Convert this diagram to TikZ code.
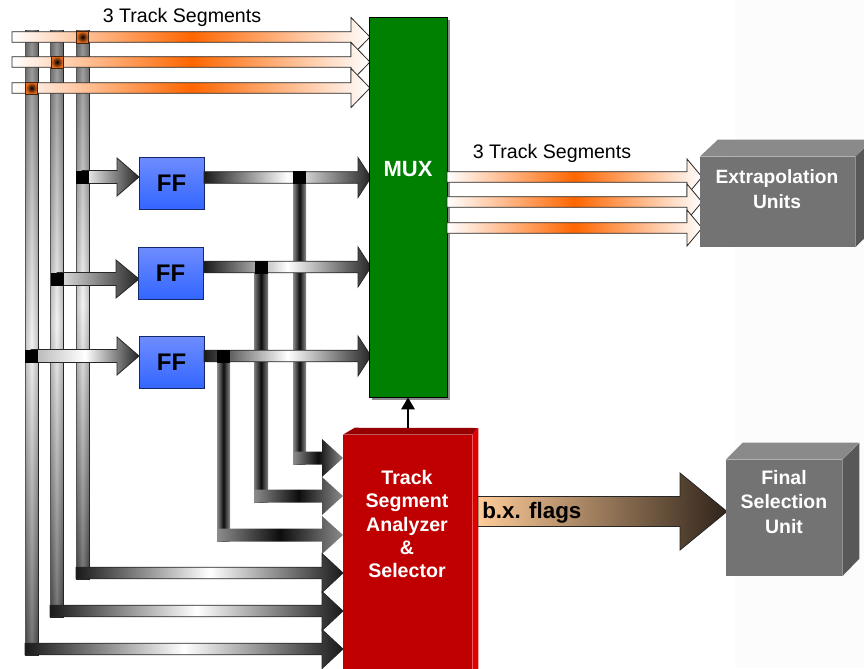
\documentclass[tikz,border=0pt]{standalone}
\usepackage{fontspec}
\setmainfont{Liberation Sans}
\usetikzlibrary{arrows.meta}
\definecolor{trkorange}{RGB}{255,102,0}
\definecolor{sqorange}{RGB}{235,110,30}
\definecolor{muxgreen}{RGB}{0,128,0}
\definecolor{tsared}{RGB}{192,0,0}
\definecolor{tsatopc}{RGB}{150,0,0}
\definecolor{tsaside}{RGB}{225,0,0}
\definecolor{ffblueA}{RGB}{110,140,255}
\definecolor{ffblueB}{RGB}{51,102,255}
\definecolor{boxfront}{RGB}{115,115,115}
\definecolor{boxtop}{RGB}{138,138,138}
\definecolor{boxside}{RGB}{88,88,88}
\definecolor{peach}{RGB}{255,204,153}
\definecolor{darkbrown}{RGB}{48,36,26}
\definecolor{bgstrip}{RGB}{252,252,252}
% horizontal block arrow: x-start, x-tip, y-centre, half shaft, head start, half head
\newcommand\harr[6]{(#1,#3-#4) -- (#5,#3-#4) -- (#5,#3-#6) -- (#2,#3) -- (#5,#3+#6) -- (#5,#3+#4) -- (#1,#3+#4) -- cycle}
\begin{document}
\begin{tikzpicture}[x=0.75pt,y=-0.75pt,line join=miter,
  outl/.style={draw=black!85,line width=0.6pt},
  trkarrow/.style={outl,left color=white,right color=white,middle color=trkorange},
  blksq/.style={fill=black,inner sep=0pt,minimum size=13*0.75pt},
  orsq/.style={draw=black!70!sqorange,line width=0.5pt,shading=radial,inner color=black,outer color=sqorange,inner sep=0pt,minimum size=12*0.75pt},
  ffbox/.style={draw=black!60!ffblueB,line width=0.6pt,top color=ffblueA,bottom color=ffblueB,inner sep=0pt,
     minimum width=65*0.75pt,minimum height=52*0.75pt,font=\fontsize{18}{20}\selectfont\bfseries},
  boxtext/.style={text=white,align=center,font=\fontsize{14.6}{18.2}\selectfont\bfseries},
  plain/.style={font=\fontsize{14.7}{17}\selectfont}]
\useasboundingbox (0,0) rectangle (864,668);
\clip (0,0) rectangle (864,668);
\fill[bgstrip] (735,0) rectangle (864,668);

% ---- vertical bus bars
\foreach \xl/\yb in {25/655,50/617,76/579}{
  \shadedraw[draw=black!85,line width=0.6pt,top color=black!80,bottom color=black,middle color=black!8] (\xl,30) rectangle (\xl+13,\yb);
  \shade[left color=black!40,right color=black!40,middle color=white,opacity=0.45] (\xl+0.5,30.5) rectangle (\xl+12.5,\yb-0.5);
}

% ---- input track segment arrows
\shadedraw[trkarrow] \harr{12}{370}{37}{5.3}{351}{19.5};
\shadedraw[trkarrow] \harr{12}{370}{62}{5.3}{351}{19.5};
\shadedraw[trkarrow] \harr{12}{370}{88}{5.3}{351}{19.5};
\node[plain] (lblin) at (182,17) {3 Track Segments};
\node[orsq] (o1) at (82.5,37) {};
\node[orsq] (o2) at (57,62) {};
\node[orsq] (o3) at (31.5,88) {};

% ---- bus taps into flip-flops
\shadedraw[outl,left color=white,right color=black!85] \harr{82}{139}{177}{6.5}{117}{19};
\shadedraw[outl,left color=black!10,right color=black!85] \harr{57}{139}{279}{6.5}{116}{19};
\shadedraw[outl,left color=black!30,right color=black!85,middle color=white] \harr{31}{139}{356}{6.5}{117}{19};
\node[blksq] (t1) at (82.5,177) {};
\node[blksq] (t2) at (57,279) {};
\node[blksq] (t3) at (31.5,356) {};

% ---- flip-flops
\node[ffbox] (ff1) at (171.5,183) {FF};
\node[ffbox] (ff2) at (170.5,273) {FF};
\node[ffbox] (ff3) at (171.5,362.5) {FF};

% ---- grey L-shaped arrows to analyzer
\shade[left color=black!45,right color=black!45,middle color=black!95] (293,180) rectangle (306,464.5);
\shade[left color=black!50,right color=black!50,middle color=black!95] (254,270) rectangle (268,502.5);
\shade[left color=black!45,right color=black!45,middle color=black!95] (217,360) rectangle (230,541.5);
\shade[left color=black!45,right color=black!45,middle color=black!95] \harr{293}{343}{458}{6.5}{322}{19};
\shade[left color=black!45,right color=black!45,middle color=black!95] \harr{254}{343}{496}{6.5}{322}{19};
\shade[left color=black!45,right color=black!45,middle color=black!95] \harr{217}{343}{535}{6.5}{322}{19};

% ---- flip-flop outputs to MUX
\shadedraw[outl,left color=black!90,right color=black!85,middle color=white] \harr{204}{371}{177.5}{5.8}{358}{20};
\shadedraw[outl,left color=black!90,right color=black!85,middle color=white] \harr{204}{371}{267}{5.8}{358}{20};
\shadedraw[outl,left color=black!90,right color=black!85,middle color=white] \harr{204}{371}{356}{5.8}{358}{20};
\node[blksq] (q1) at (299.5,177.5) {};
\node[blksq] (q2) at (261,267) {};
\node[blksq] (q3) at (223.5,356) {};

% ---- bus bottoms into analyzer
\shadedraw[outl,left color=black!90,right color=black!90,middle color=white] \harr{76}{343}{573}{5.8}{322}{19.5};
\shadedraw[outl,left color=black!90,right color=black!90,middle color=white] \harr{50}{343}{611}{5.8}{322}{19.5};
\shadedraw[outl,left color=black!90,right color=black!90,middle color=white] \harr{25}{343}{649}{5.8}{322}{19.5};

% ---- MUX
\fill[black!45] (372,20) rectangle (450,400);
\node[draw=black,line width=0.6pt,fill=muxgreen,inner sep=0pt,minimum width=78*0.75pt,minimum height=380*0.75pt] (mux) at (408,207) {};
\node[text=white,font=\fontsize{16.5}{18}\selectfont\bfseries] (muxlbl) at (408,169) {MUX};

% ---- MUX outputs
\shadedraw[trkarrow] \harr{447}{702}{177}{5.3}{687}{18};
\shadedraw[trkarrow] \harr{447}{702}{202}{5.3}{687}{18};
\shadedraw[trkarrow] \harr{447}{702}{228}{5.3}{687}{18};
\node[plain] (lblout) at (552,153) {3 Track Segments};

% ---- Track Segment Analyzer & Selector
\node[fill=tsared,inner sep=0pt,minimum width=129*0.75pt,minimum height=245*0.75pt] (tsa) at (407.5,557.5) {};
\fill[tsatopc] (tsa.north west) -- ++(12,-7) -- (478,428) -- (tsa.north east) -- cycle;
\fill[tsaside] (tsa.north east) -- ++(6,-7) -- ++(0,250) -- (tsa.south east) -- cycle;
\node[boxtext,font=\fontsize{14.7}{17.6}\selectfont\bfseries] (tsalbl) at (407,524) {Track\\Segment\\Analyzer\\\&\\Selector};
\coordinate (tsaup) at (408,428);
\draw[line width=1.5pt,-{Triangle[width=10pt,length=9pt]}] (tsaup) -- (mux.south);

% ---- b.x. flags
\shadedraw[outl,left color=peach,right color=darkbrown] \harr{478}{727}{511.5}{15}{680}{38.5};
\node[anchor=west,inner sep=0pt,font=\fontsize{16.8}{18}\selectfont\bfseries] (bxlbl) at (482,513) {b.x. flags};

% ---- Extrapolation Units
\node[fill=boxfront,inner sep=0pt,minimum width=155*0.75pt,minimum height=90*0.75pt] (exu) at (777.5,202) {};
\fill[boxtop] (exu.north west) -- ++(18,-17) -- ++(155,0) -- (exu.north east) -- cycle;
\fill[boxside] (exu.north east) -- ++(18,-17) -- ++(0,90) -- (exu.south east) -- cycle;
\node[boxtext,font=\fontsize{14.4}{18.7}\selectfont\bfseries] (exulbl) at (777,189.5) {Extrapolation\\Units};

% ---- Final Selection Unit
\node[fill=boxfront,inner sep=0pt,minimum width=116*0.75pt,minimum height=116*0.75pt] (fsu) at (784,518) {};
\fill[boxtop] (fsu.north west) -- ++(17,-17) -- ++(116,0) -- (fsu.north east) -- cycle;
\fill[boxside] (fsu.north east) -- ++(17,-17) -- ++(0,116) -- (fsu.south east) -- cycle;
\node[boxtext] (fsulbl) at (784,502) {Final\\Selection\\Unit};
\end{tikzpicture}
\end{document}
